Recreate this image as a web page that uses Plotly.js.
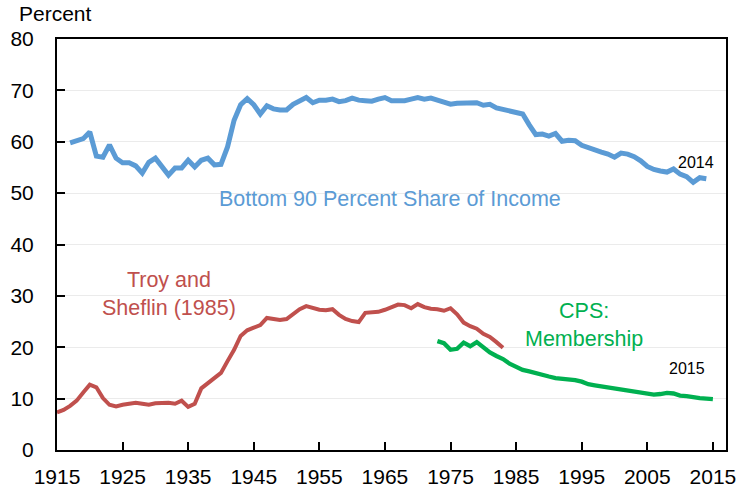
<!DOCTYPE html>
<html>
<head>
<meta charset="utf-8">
<script src="https://cdn.plot.ly/plotly-3.0.1.min.js"></script>
<style>html,body{margin:0;padding:0;background:#fff;}#chart{width:739px;height:487px;}</style>
</head>
<body>
<div id="chart"></div>
<script>
// Bottom 90 Percent Share of Income, 1917-2014
const incomeYears = [];
for (let y = 1917; y <= 2014; y++) incomeYears.push(y);
const incomeShare = [
  59.8, 60.2, 60.6, 61.9, 57.2, 57.0, 59.4, 56.8, 55.9, 55.9,
  55.3, 53.9, 56.0, 56.8, 55.1, 53.5, 54.9, 54.9, 56.4, 55.1,
  56.4, 56.8, 55.5, 55.6, 59.0, 64.2, 67.2, 68.4, 67.2, 65.4,
  67.0, 66.4, 66.2, 66.2, 67.3, 68.0, 68.6, 67.6, 68.1, 68.1,
  68.3, 67.8, 68.0, 68.5, 68.1, 68.0, 67.9, 68.3, 68.6, 68.0,
  67.9, 68.0, 68.3, 68.6, 68.3, 68.5, 68.1, 67.6, 67.3, 67.5,
  67.5, 67.5, 67.6, 67.1, 67.3, 66.6, 66.3, 66.0, 65.8, 65.4,
  63.3, 61.4, 61.5, 61.1, 61.6, 60.1, 60.3, 60.2, 59.3, 58.8,
  58.4, 58.0, 57.6, 57.0, 57.8, 57.6, 57.1, 56.3, 55.2, 54.6,
  54.3, 54.1, 54.7, 53.7, 53.2, 52.1, 53.0, 52.8
];

// Troy and Sheflin (1985), 1915-1983
const troyYears = [];
for (let y = 1915; y <= 1983; y++) troyYears.push(y);
const troyRate = [
  7.3, 7.8, 8.6, 9.6, 11.2, 12.7, 12.2, 10.1, 8.8, 8.5,
  8.8, 9.0, 9.2, 9.0, 8.8, 9.1, 9.2, 9.2, 9.0, 9.6,
  8.4, 9.0, 12.0, 13.0, 13.8, 15.0, 17.3, 19.5, 22.2, 23.3,
  23.8, 24.3, 25.7, 25.5, 25.3, 25.5, 26.4, 27.4, 28.0, 27.7,
  27.3, 27.2, 27.4, 26.3, 25.5, 25.1, 24.9, 26.7, 26.8, 26.9,
  27.3, 27.8, 28.3, 28.2, 27.6, 28.4, 27.8, 27.5, 27.4, 27.1,
  27.6, 26.4, 24.8, 24.1, 23.6, 22.6, 22.0, 21.0, 19.9
];

// CPS: Membership, 1973-2015
const cpsYears = [];
for (let y = 1973; y <= 2015; y++) cpsYears.push(y);
const cpsRate = [
  21.2, 20.8, 19.5, 19.7, 20.9, 20.2, 21.0, 20.0, 19.0, 18.3,
  17.7, 16.8, 16.2, 15.6, 15.3, 14.9, 14.6, 14.3, 14.0, 13.9,
  13.7, 13.6, 13.3, 12.8, 12.6, 12.4, 12.4, 12.0, 11.9, 11.8,
  11.5, 11.3, 11.1, 10.8, 10.9, 11.1, 11.0, 10.6, 10.5, 10.2,
  10.1, 10.0, 9.9
];

const xTicks = [1915, 1925, 1935, 1945, 1955, 1965, 1975, 1985, 1995, 2005, 2015];
const yTicks = [0, 10, 20, 30, 40, 50, 60, 70, 80];

const FONT = "Liberation Sans, Arial, sans-serif";
const BLUE = "#5B9BD5", RED = "#C0504D", GREEN = "#00B050";

const traces = [
  {x: incomeYears, y: incomeShare, type: "scatter", mode: "lines",
   line: {color: BLUE, width: 5}, hoverinfo: "skip"},
  {x: troyYears, y: troyRate, type: "scatter", mode: "lines",
   line: {color: RED, width: 4}, hoverinfo: "skip"},
  {x: cpsYears, y: cpsRate, type: "scatter", mode: "lines",
   line: {color: GREEN, width: 4.3}, hoverinfo: "skip"}
];

const layout = {
  width: 739, height: 487,
  margin: {l: 57, r: 13, t: 39, b: 37},
  paper_bgcolor: "#fff", plot_bgcolor: "#fff",
  showlegend: false,
  font: {family: FONT, size: 21, color: "#000"},
  xaxis: {
    range: [1915, 2017], tickvals: xTicks, ticktext: xTicks.map(String),
    ticks: "inside", ticklen: 8, tickwidth: 2, tickcolor: "#000",
    showline: true, linecolor: "#000", linewidth: 2, mirror: true,
    showgrid: false, zeroline: false, ticklabelstandoff: 7,
    tickfont: {family: FONT, size: 21, color: "#000"}
  },
  yaxis: {
    range: [0, 80], tickvals: yTicks, ticktext: yTicks.map(String),
    ticks: "inside", ticklen: 8, tickwidth: 2, tickcolor: "#000",
    showline: true, linecolor: "#000", linewidth: 2, mirror: true,
    showgrid: true, gridcolor: "#EBEBEB", gridwidth: 1, zeroline: false,
    ticklabelstandoff: 17,
    tickfont: {family: FONT, size: 21, color: "#000"}
  },
  annotations: [
    {text: "Percent", xref: "paper", yref: "paper", x: -0.06, y: 1.03,
     xanchor: "left", yanchor: "bottom", showarrow: false,
     font: {family: FONT, size: 21, color: "#000"}},
    {text: "Bottom 90 Percent Share of Income", x: 1965.8, y: 48.9,
     xref: "x", yref: "y", showarrow: false, font: {family: FONT, size: 21.5, color: BLUE}},
    {text: "Troy and<br>Sheflin (1985)", x: 1932, y: 30.4,
     xref: "x", yref: "y", showarrow: false, font: {family: FONT, size: 21.5, color: RED}},
    {text: "CPS:<br>Membership", x: 1995.3, y: 24.3,
     xref: "x", yref: "y", showarrow: false, font: {family: FONT, size: 21.5, color: GREEN}},
    {text: "2014", x: 2012.4, y: 55.9, xref: "x", yref: "y", showarrow: false,
     font: {family: FONT, size: 16, color: "#000"}},
    {text: "2015", x: 2011, y: 15.8, xref: "x", yref: "y", showarrow: false,
     font: {family: FONT, size: 16, color: "#000"}}
  ]
};

Plotly.newPlot("chart", traces, layout, {staticPlot: true, displayModeBar: false});
</script>
</body>
</html>
